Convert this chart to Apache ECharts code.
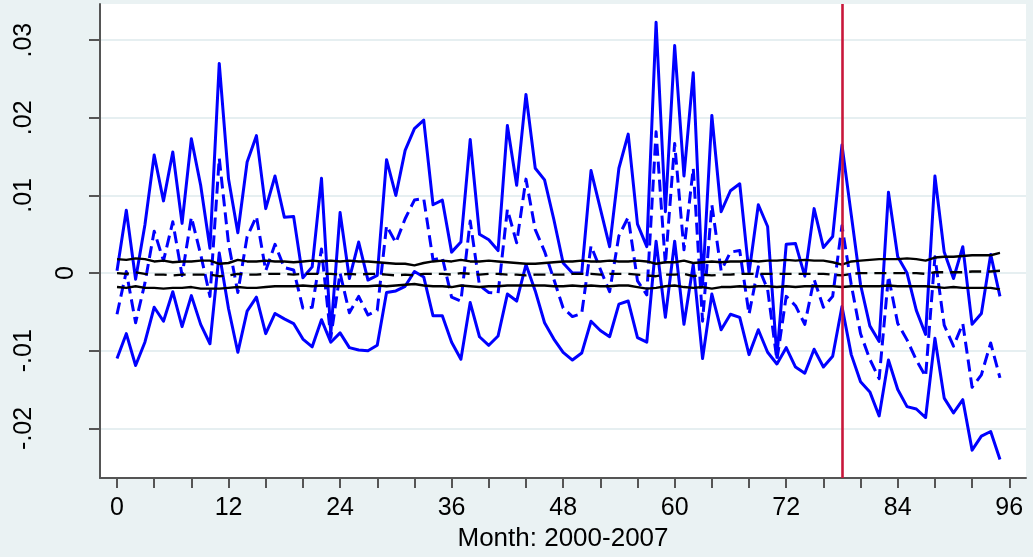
<!DOCTYPE html>
<html><head><meta charset="utf-8">
<script src="https://cdn.jsdelivr.net/npm/echarts@6/dist/echarts.min.js"></script>
<style>html,body{margin:0;padding:0;background:#eaf2f3;}#c{width:1033px;height:557px;}</style>
</head><body><div id="c"></div>
<script>
// Month index 0..95 (2000-2007)
const months = Array.from({length: 96}, (_, i) => i);

// Blue: upper bound (solid), estimate (dashed), lower bound (solid)
const blueUpper = [
 0.0003, 0.0081,-0.0008, 0.0062, 0.0152, 0.0093, 0.0156, 0.0064, 0.0173, 0.0113, 0.0032, 0.0270,
 0.0121, 0.0052, 0.0143, 0.0177, 0.0083, 0.0125, 0.0072, 0.0073,-0.0006, 0.0008, 0.0122,-0.0078,
 0.0078,-0.0007, 0.0040,-0.0009,-0.0003, 0.0146, 0.0100, 0.0158, 0.0186, 0.0197, 0.0088, 0.0094,
 0.0027, 0.0040, 0.0172, 0.0050, 0.0043, 0.0029, 0.0190, 0.0113, 0.0230, 0.0135, 0.0120, 0.0069,
 0.0013, 0.0000, 0.0000, 0.0132, 0.0083, 0.0034, 0.0135, 0.0179, 0.0063, 0.0034, 0.0323, 0.0079,
 0.0293, 0.0125, 0.0258,-0.0015, 0.0203, 0.0079, 0.0106, 0.0115, 0.0000, 0.0088, 0.0060,-0.0108,
 0.0037, 0.0038,-0.0004, 0.0083, 0.0033, 0.0047, 0.0165, 0.0075,-0.0015,-0.0068,-0.0088, 0.0104,
 0.0021, 0.0000,-0.0048,-0.0079, 0.0125, 0.0027,-0.0007, 0.0034,-0.0066,-0.0052, 0.0024,-0.0030
];
const blueMid = [
-0.0053, 0.0002,-0.0064,-0.0013, 0.0054, 0.0016, 0.0066,-0.0003, 0.0072, 0.0024,-0.0030, 0.0148,
 0.0038,-0.0025, 0.0047, 0.0073, 0.0003, 0.0037, 0.0007, 0.0004,-0.0045,-0.0044, 0.0031,-0.0083,
 0.0000,-0.0051,-0.0030,-0.0054,-0.0048, 0.0061, 0.0039, 0.0070, 0.0094, 0.0096, 0.0017, 0.0020,
-0.0031,-0.0036, 0.0067,-0.0016,-0.0025,-0.0026, 0.0082, 0.0039, 0.0121, 0.0056, 0.0028,-0.0008,
-0.0045,-0.0056,-0.0052, 0.0035, 0.0005,-0.0024, 0.0048, 0.0072,-0.0010,-0.0028, 0.0182, 0.0011,
 0.0167, 0.0030, 0.0135,-0.0062, 0.0088, 0.0003, 0.0027, 0.0029,-0.0053, 0.0008,-0.0021,-0.0112,
-0.0030,-0.0042,-0.0066,-0.0008,-0.0044,-0.0030, 0.0061,-0.0015,-0.0078,-0.0111,-0.0136,-0.0004,
-0.0065,-0.0086,-0.0112,-0.0133, 0.0021,-0.0067,-0.0094,-0.0065,-0.0147,-0.0131,-0.0090,-0.0135
];
const blueLower = [
-0.0110,-0.0078,-0.0119,-0.0089,-0.0044,-0.0062,-0.0024,-0.0069,-0.0029,-0.0066,-0.0091, 0.0026,
-0.0046,-0.0102,-0.0049,-0.0031,-0.0078,-0.0052,-0.0059,-0.0065,-0.0085,-0.0095,-0.0060,-0.0089,
-0.0077,-0.0096,-0.0099,-0.0100,-0.0093,-0.0025,-0.0023,-0.0017, 0.0002,-0.0005,-0.0055,-0.0055,
-0.0089,-0.0111,-0.0038,-0.0082,-0.0093,-0.0081,-0.0027,-0.0036, 0.0011,-0.0023,-0.0064,-0.0085,
-0.0102,-0.0112,-0.0103,-0.0062,-0.0074,-0.0082,-0.0040,-0.0036,-0.0083,-0.0089, 0.0041,-0.0057,
 0.0041,-0.0066, 0.0011,-0.0110,-0.0027,-0.0073,-0.0053,-0.0057,-0.0105,-0.0073,-0.0102,-0.0117,
-0.0096,-0.0121,-0.0129,-0.0098,-0.0121,-0.0107,-0.0043,-0.0105,-0.0140,-0.0153,-0.0184,-0.0112,
-0.0150,-0.0172,-0.0175,-0.0186,-0.0084,-0.0161,-0.0180,-0.0163,-0.0228,-0.0210,-0.0204,-0.0240
];

// Black: placebo band upper (solid), mean (dashed), lower (solid)
const blackUpper = [
 0.0018, 0.0017, 0.0019, 0.0018, 0.0015, 0.0016, 0.0014, 0.0015, 0.0015, 0.0016, 0.0016, 0.0012,
 0.0013, 0.0017, 0.0015, 0.0015, 0.0016, 0.0015, 0.0015, 0.0014, 0.0015, 0.0016, 0.0015, 0.0016,
 0.0015, 0.0016, 0.0015, 0.0015, 0.0014, 0.0013, 0.0012, 0.0012, 0.0010, 0.0013, 0.0015, 0.0016,
 0.0015, 0.0017, 0.0015, 0.0015, 0.0016, 0.0015, 0.0014, 0.0013, 0.0012, 0.0012, 0.0013, 0.0014,
 0.0015, 0.0015, 0.0016, 0.0015, 0.0015, 0.0016, 0.0015, 0.0015, 0.0016, 0.0015, 0.0012, 0.0014,
 0.0014, 0.0016, 0.0013, 0.0014, 0.0015, 0.0014, 0.0015, 0.0015, 0.0016, 0.0015, 0.0016, 0.0016,
 0.0017, 0.0016, 0.0017, 0.0016, 0.0016, 0.0014, 0.0011, 0.0015, 0.0016, 0.0017, 0.0018, 0.0018,
 0.0018, 0.0019, 0.0018, 0.0016, 0.0020, 0.0021, 0.0021, 0.0022, 0.0023, 0.0023, 0.0023, 0.0026
];
const blackMid = [
 0.0000,-0.0001, 0.0001,-0.0001,-0.0002,-0.0002,-0.0003,-0.0002,-0.0002,-0.0002,-0.0002,-0.0004,
-0.0003,-0.0001,-0.0002,-0.0002,-0.0001,-0.0001,-0.0001,-0.0002,-0.0001,-0.0001,-0.0001,-0.0001,
-0.0002,-0.0001,-0.0002,-0.0001,-0.0001,-0.0002,-0.0003,-0.0002,-0.0003,-0.0001,-0.0001,-0.0001,
-0.0002, 0.0000,-0.0001,-0.0002,-0.0001,-0.0001,-0.0002,-0.0002,-0.0003,-0.0002,-0.0002,-0.0002,
-0.0002,-0.0001,-0.0001,-0.0001,-0.0002,-0.0001,-0.0001,-0.0001,-0.0002,-0.0003,-0.0004,-0.0002,
-0.0002,-0.0001,-0.0004,-0.0002,-0.0003,-0.0002,-0.0002,-0.0001,-0.0001,-0.0001,-0.0001,-0.0001,
-0.0001,-0.0001,-0.0001,-0.0001,-0.0001,-0.0002,-0.0003,-0.0001, 0.0000, 0.0000, 0.0000, 0.0000,
 0.0000, 0.0000, 0.0000,-0.0001, 0.0001, 0.0001, 0.0001, 0.0001, 0.0002, 0.0002, 0.0002, 0.0003
];
const blackLower = [
-0.0018,-0.0019,-0.0017,-0.0019,-0.0019,-0.0020,-0.0019,-0.0019,-0.0018,-0.0020,-0.0020,-0.0020,
-0.0019,-0.0018,-0.0019,-0.0019,-0.0018,-0.0017,-0.0017,-0.0017,-0.0016,-0.0017,-0.0016,-0.0017,
-0.0017,-0.0017,-0.0017,-0.0017,-0.0016,-0.0017,-0.0016,-0.0015,-0.0014,-0.0016,-0.0017,-0.0017,
-0.0018,-0.0016,-0.0017,-0.0018,-0.0017,-0.0017,-0.0016,-0.0016,-0.0016,-0.0016,-0.0016,-0.0017,
-0.0017,-0.0016,-0.0017,-0.0016,-0.0017,-0.0017,-0.0016,-0.0016,-0.0018,-0.0020,-0.0019,-0.0017,
-0.0016,-0.0018,-0.0019,-0.0018,-0.0020,-0.0018,-0.0018,-0.0017,-0.0018,-0.0017,-0.0017,-0.0018,
-0.0017,-0.0018,-0.0017,-0.0017,-0.0017,-0.0017,-0.0018,-0.0017,-0.0017,-0.0017,-0.0017,-0.0016,
-0.0017,-0.0017,-0.0017,-0.0017,-0.0018,-0.0019,-0.0018,-0.0019,-0.0019,-0.0019,-0.0019,-0.0021
];

// Axis ticks / labels
const xTicks = [0,4,8,12,16,20,24,28,32,36,40,44,48,52,56,60,64,68,72,76,80,84,88,92,96];
const xLabels = [0,12,24,36,48,60,72,84,96];
const yTicks = [-0.02,-0.01,0,0.01,0.02,0.03];
const yLabelsMain = [-0.02,-0.01,0.01,0.02,0.03];
const yLabelsZero = [0];
const eventMonth = 78;
const xTitle = 'Month: 2000-2007';

const FONT = '"Liberation Sans", Arial, Helvetica, sans-serif';
const fmtY = v => v === 0 ? '0' : (v < 0 ? '-' : '') + Math.abs(v).toFixed(2).replace(/^0/, '');
const zip = arr => months.map((m, i) => [m, arr[i]]);

function lineSeries(name, arr, color, width, dash, z) {
  return {
    name, type: 'line', data: zip(arr), showSymbol: false, symbol: 'none',
    z: z, silent: true,
    lineStyle: { color, width, type: dash ? dash : 'solid', cap: 'butt', join: 'round' }
  };
}

const chart = echarts.init(document.getElementById('c'), null, { renderer: 'canvas' });
const blackMidSeries = lineSeries('blackMid', blackMid, '#000000', 2.4, [12, 7], 6);
blackMidSeries.markLine = {
  silent: true, symbol: ['none', 'none'], label: { show: false },
  lineStyle: { color: '#c8173a', width: 2.6, type: 'solid' },
  data: [{ xAxis: eventMonth }], z: 10
};
chart.setOption({
  animation: false,
  backgroundColor: '#eaf2f3',
  grid: { left: 100, right: 7, top: 4, bottom: 75, show: true, backgroundColor: '#ffffff', borderWidth: 0 },
  xAxis: {
    type: 'value', min: -1.83, max: 97.8,
    axisLine: { show: true, onZero: false, lineStyle: { color: '#555555', width: 2 } },
    axisTick: { show: true, inside: false, length: 10, customValues: xTicks, lineStyle: { color: '#555555', width: 2 } },
    axisLabel: { customValues: xLabels, fontSize: 25, color: '#000', margin: 18, fontFamily: FONT },
    splitLine: { show: false },
    name: xTitle, nameLocation: 'middle', nameGap: 42,
    nameTextStyle: { fontSize: 26, color: '#000', fontFamily: FONT }
  },
  yAxis: [{
    type: 'value', min: -0.0264, max: 0.03465,
    axisLine: { show: true, onZero: false, lineStyle: { color: '#555555', width: 2 } },
    axisTick: { show: true, inside: false, length: 11, customValues: yTicks, lineStyle: { color: '#555555', width: 2 } },
    axisLabel: { customValues: yLabelsMain, rotate: 90, fontSize: 25, color: '#000', margin: 63, fontFamily: FONT, formatter: fmtY },
    splitLine: { show: true, lineStyle: { color: '#e6eff1', width: 2 } }
  }, {
    type: 'value', min: -0.0264, max: 0.03465, position: 'left',
    axisLine: { show: false }, axisTick: { show: false },
    axisLabel: { customValues: yLabelsZero, rotate: 90, fontSize: 25, color: '#000', margin: 21, fontFamily: FONT, formatter: fmtY },
    splitLine: { show: false }
  }],
  series: [
    lineSeries('blueUpper', blueUpper, '#0000ff', 3, null, 2),
    lineSeries('blueMid', blueMid, '#0000ff', 3, [12, 6], 2),
    lineSeries('blueLower', blueLower, '#0000ff', 3, null, 2),
    lineSeries('blackUpper', blackUpper, '#000000', 2.4, null, 5),
    blackMidSeries,
    lineSeries('blackLower', blackLower, '#000000', 2.4, null, 5)
  ]
});
</script></body></html>
